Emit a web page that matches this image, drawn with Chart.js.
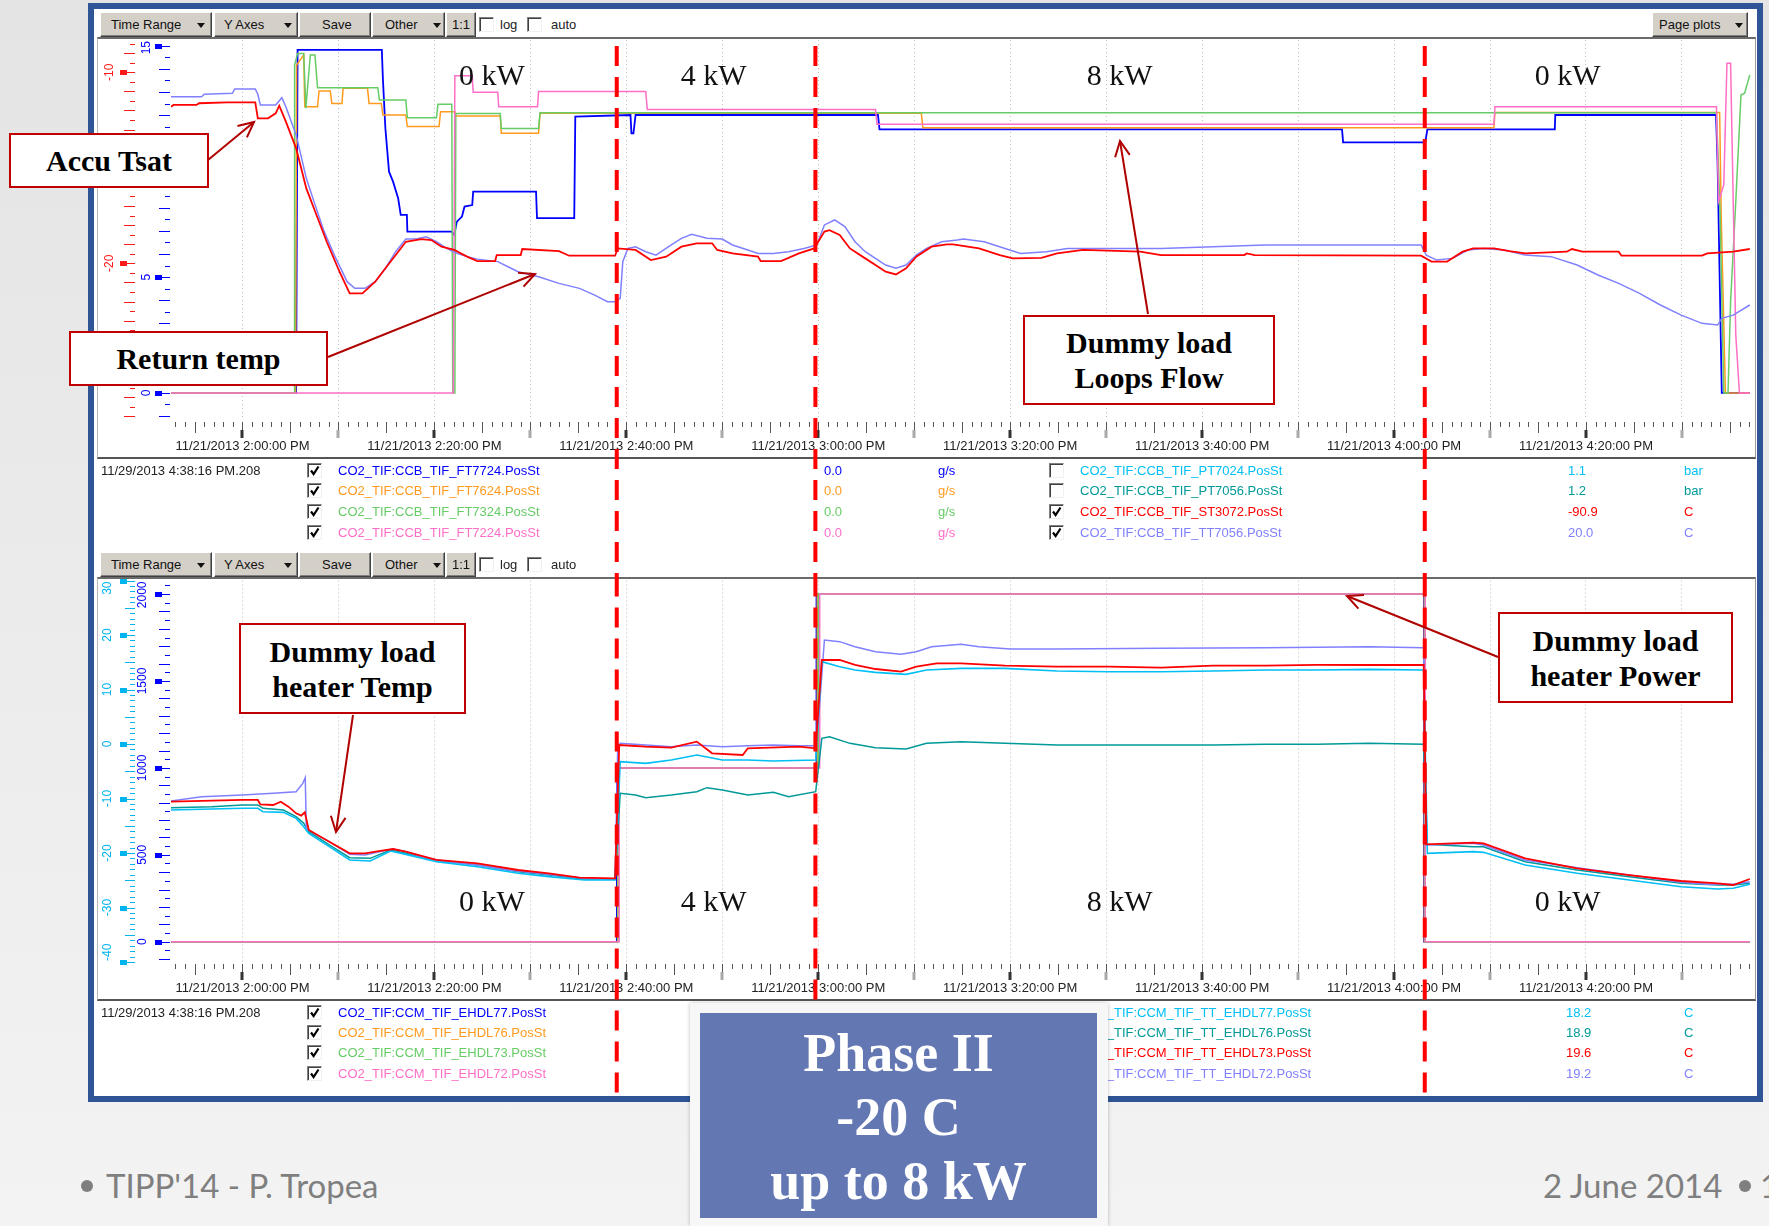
<!DOCTYPE html>
<html>
<head>
<meta charset="utf-8">
<title>Phase II -20 C up to 8 kW</title>
<script src="https://cdn.jsdelivr.net/npm/chart.js@4.4.1/dist/chart.umd.min.js"></script>
<style>
html,body{margin:0;padding:0;}
body{width:1769px;height:1226px;position:relative;overflow:hidden;
  background:linear-gradient(180deg,#e4e4e4 0%,#ececec 55%,#f3f3f3 100%);
  font-family:"Liberation Sans",Arial,sans-serif;}
.abs{position:absolute;}
#win{left:88px;top:3px;width:1663px;height:1087px;border:6px solid #2f5597;background:#fff;z-index:0;}
.panel{position:absolute;left:97px;width:1657px;border-top:2px solid #6a6a6a;border-left:1px solid #b8b8b8;border-right:1px solid #9a9a9a;border-bottom:2px solid #555;z-index:0;}
canvas{position:absolute;z-index:1;}
.btn{position:absolute;height:23px;background:#d4d0c8;border:1px solid;border-color:#fff #404040 #404040 #fff;
  box-shadow:inset -1px -1px #808080;font-size:13px;line-height:23px;color:#111;box-sizing:content-box;z-index:2;}
.btn .lab{position:absolute;top:0;}
.btn .arr{position:absolute;top:10px;width:0;height:0;border-left:4px solid transparent;border-right:4px solid transparent;border-top:5px solid #111;}
.cb{position:absolute;width:13px;height:13px;background:#fff;border:1px solid;border-color:#808080 #f0f0f0 #f0f0f0 #808080;
  box-shadow:inset 1px 1px #404040;z-index:2;}
.cb svg{position:absolute;left:0;top:0;}
.tx{position:absolute;font-size:13px;line-height:16px;white-space:nowrap;z-index:2;}
.note{position:absolute;background:#fff;border:2.5px solid #c00000;box-sizing:border-box;z-index:6;
  font-family:"Liberation Serif","Times New Roman",serif;font-weight:bold;font-size:30px;line-height:35px;color:#000;
  display:flex;align-items:center;justify-content:center;text-align:center;}
#phaseOuter{left:690px;top:1003px;width:418px;height:223px;background:#f7f7f7;box-shadow:0 0 4px rgba(0,0,0,0.25);z-index:8;}
#phaseInner{left:700px;top:1013px;width:397px;height:205px;background:#6377b3;z-index:9;color:#fff;
  font-family:"Liberation Serif","Times New Roman",serif;font-weight:bold;font-size:54px;line-height:64px;text-align:center;}
.foot{position:absolute;font-family:Lato,"Open Sans",sans-serif;font-size:33px;color:#7f7f7f;line-height:40px;z-index:3;white-space:nowrap;}
.dot{position:absolute;width:12px;height:12px;border-radius:50%;background:#7f7f7f;z-index:3;}
#arrows{position:absolute;left:0;top:0;z-index:7;}
</style>
</head>
<body>
<div id="win" class="abs"></div>
<div class="panel" style="top:37px;height:418px;"></div>
<div class="panel" style="top:577px;height:420px;"></div>
<canvas id="topChart" width="1661" height="540" style="left:95px;top:38px;"></canvas>
<canvas id="bottomChart" width="1661" height="521" style="left:95px;top:578px;"></canvas>
<div id="overlay"></div>
<svg id="arrows" width="1769" height="1226"></svg>

<div class="note" style="left:9px;top:133px;width:200px;height:55px;">Accu Tsat</div>
<div class="note" style="left:69px;top:331px;width:259px;height:55px;">Return temp</div>
<div class="note" style="left:1023px;top:315px;width:252px;height:90px;">Dummy load<br>Loops Flow</div>
<div class="note" style="left:239px;top:623px;width:227px;height:91px;">Dummy load<br>heater Temp</div>
<div class="note" style="left:1498px;top:612px;width:235px;height:91px;">Dummy load<br>heater Power</div>

<div id="phaseOuter" class="abs"></div>
<div id="phaseInner" class="abs"><div style="padding-top:8px">Phase II<br>-20 C<br>up to 8 kW</div></div>

<div class="dot" style="left:81px;top:1180px;"></div>
<div class="foot" style="left:106px;top:1165px;">TIPP'14 - P. Tropea</div>
<div class="foot" style="left:1543px;top:1165px;">2 June 2014</div>
<div class="dot" style="left:1739px;top:1180px;"></div>
<div class="foot" style="left:1760px;top:1165px;">1</div>

<script>
// ---- time axis: minutes after 2:00:00 PM, 11/21/2013 ----
const timeMin = -7.45;
const timeMax = 157.3;
const dateLabel = '11/21/2013';
const timeLabels = ['2:00:00 PM','2:20:00 PM','2:40:00 PM','3:00:00 PM','3:20:00 PM','3:40:00 PM','4:00:00 PM','4:20:00 PM'];
const phaseTimes = [39.0, 59.7, 123.2];            // heater power changes
const phaseNames = ['0 kW','4 kW','8 kW','0 kW'];
const phaseNameTimes = [26.0, 49.1, 91.4, 138.1];

// ---- upper plot: loop flows (g/s) ----
const ft7724 = [[-7.45,0],[5.59,0],[5.74,14.82],[14.52,14.82],[14.63,13.59],[14.89,11.43],[15.27,9.56],[15.69,9.13],[16.22,8.41],[16.49,7.69],[17.13,7.69],[17.18,6.97],[21.81,6.97],[22.07,6.83],[22.34,7.40],[22.87,7.62],[23.14,8.05],[23.94,8.12],[24.04,8.70],[30.59,8.70],[30.69,7.55],[34.57,7.55],[34.68,11.94],[40.43,12.01],[40.53,11.22],[40.74,11.22],[40.96,12.01],[66.22,12.01],[66.38,11.39],[114.58,11.39],[114.69,10.83],[123.25,10.83],[123.47,11.39],[136.75,11.39],[136.80,12.01],[153.55,12.01],[153.71,9.99],[154.15,0],[157.07,0]];
const ft7624 = [[-7.45,0],[5.53,0],[5.64,14.17],[6.38,14.60],[6.49,12.37],[7.82,12.37],[7.98,13.05],[9.15,13.05],[9.31,12.51],[10.37,12.51],[10.48,13.16],[13.03,13.16],[13.19,12.51],[14.47,12.51],[14.63,12.01],[17.02,12.01],[17.18,11.51],[20.48,11.51],[20.64,12.15],[22.13,12.15],[22.23,11.97],[26.86,11.97],[26.97,11.22],[30.85,11.22],[31.01,12.08],[70.74,12.08],[70.90,11.46],[130.41,11.46],[130.51,12.12],[153.93,12.12],[154.09,7.69],[154.53,0],[157.07,0]];
const ft7324 = [[-7.45,0],[5.37,0],[5.43,14.17],[5.74,14.67],[6.38,14.67],[6.60,12.30],[7.07,14.60],[7.55,14.60],[7.82,13.19],[14.10,13.19],[14.26,12.66],[17.02,12.66],[17.18,11.89],[20.21,11.89],[20.37,12.47],[21.81,12.47],[21.91,0],[22.13,0],[22.23,12.07],[26.86,12.07],[26.97,11.43],[30.85,11.43],[31.01,12.11],[153.60,12.11],[153.98,7.69],[154.36,0],[154.80,0],[155.07,3.95],[155.61,8.27],[156.15,12.87],[156.53,12.95],[157.07,13.74]];
const ft7224 = [[-7.45,0],[21.97,0],[22.13,13.71],[23.94,13.71],[24.04,12.99],[26.60,12.99],[26.70,12.37],[30.74,12.37],[30.85,13.02],[42.02,13.02],[42.18,12.25],[65.96,12.25],[66.12,11.61],[130.41,11.61],[130.51,12.37],[153.60,12.37],[153.82,8.27],[154.36,8.99],[154.69,14.24],[155.07,14.24],[155.61,2.51],[155.99,0],[157.07,0]];

// ---- upper plot: temperatures (C) ----
const st3072 = [[-7.45,-11.80],[-7.18,-11.71],[-4.79,-11.71],[-4.52,-11.62],[-1.60,-11.57],[1.33,-11.57],[1.60,-12.41],[2.66,-12.41],[3.46,-12.15],[3.83,-11.75],[4.52,-12.58],[5.59,-13.98],[6.65,-16.08],[7.71,-17.47],[8.78,-18.87],[10.11,-20.44],[11.17,-21.57],[12.50,-21.57],[13.83,-20.96],[15.16,-20.09],[16.49,-19.22],[17.02,-18.87],[18.62,-18.73],[19.68,-18.78],[20.74,-19.13],[22.07,-19.30],[23.40,-19.65],[24.47,-19.88],[26.33,-19.88],[26.49,-19.57],[28.99,-19.57],[29.15,-19.25],[32.98,-19.36],[34.04,-19.60],[38.83,-19.60],[39.10,-19.22],[40.96,-19.30],[42.55,-19.83],[44.15,-19.65],[45.74,-19.13],[47.34,-18.95],[48.94,-18.95],[49.47,-19.30],[51.06,-19.48],[53.72,-19.65],[53.99,-19.88],[56.12,-19.88],[57.98,-19.48],[59.57,-19.22],[60.64,-18.34],[61.17,-18.26],[62.23,-18.52],[63.30,-19.22],[64.89,-19.74],[65.96,-20.09],[67.02,-20.44],[68.09,-20.58],[69.15,-20.26],[70.21,-19.65],[71.81,-19.13],[73.40,-19.01],[74.04,-19.01],[76.75,-19.22],[78.92,-19.57],[80.27,-19.74],[83.25,-19.71],[84.88,-19.48],[87.59,-19.30],[93.55,-19.39],[95.72,-19.57],[104.39,-19.57],[104.66,-19.48],[105.47,-19.57],[122.82,-19.60],[123.90,-19.91],[125.53,-19.91],[127.15,-19.39],[128.24,-19.22],[130.41,-19.22],[132.03,-19.36],[133.66,-19.48],[138.00,-19.39],[138.54,-19.25],[139.62,-19.39],[143.41,-19.39],[143.69,-19.60],[152.09,-19.60],[152.63,-19.48],[155.34,-19.39],[157.07,-19.25]];
const tt7056 = [[-7.45,-11.28],[-4.26,-11.28],[-3.99,-11.15],[-1.06,-11.10],[-0.80,-10.87],[1.33,-10.87],[1.60,-11.15],[1.86,-11.71],[3.46,-11.71],[4.10,-11.33],[4.52,-11.80],[5.59,-13.28],[6.65,-15.55],[7.45,-16.77],[8.51,-18.34],[9.57,-19.57],[10.90,-20.96],[11.70,-21.31],[12.77,-21.31],[13.83,-20.96],[14.89,-20.26],[15.96,-19.39],[17.02,-18.73],[18.09,-18.73],[19.15,-18.61],[20.21,-18.87],[21.28,-19.22],[22.34,-19.48],[23.40,-19.65],[24.47,-19.78],[26.60,-19.91],[27.66,-20.18],[28.72,-20.44],[30.85,-20.70],[32.98,-21.05],[35.11,-21.31],[36.70,-21.66],[38.03,-22.01],[38.83,-22.01],[39.36,-21.83],[39.63,-19.91],[40.16,-19.22],[40.96,-19.13],[42.02,-19.39],[43.09,-19.57],[44.68,-19.04],[45.74,-18.69],[46.81,-18.48],[48.40,-18.69],[50.00,-18.73],[51.06,-19.04],[52.66,-19.30],[53.72,-19.48],[55.32,-19.48],[56.91,-19.39],[58.51,-19.22],[59.84,-19.04],[60.64,-17.99],[61.70,-17.73],[62.77,-18.08],[63.83,-18.87],[64.89,-19.39],[65.96,-19.74],[67.02,-20.09],[68.09,-20.26],[69.15,-20.09],[70.21,-19.57],[71.28,-19.22],[72.87,-18.87],[74.47,-18.78],[75.12,-18.73],[77.29,-18.87],[79.46,-19.22],[81.08,-19.48],[83.79,-19.39],[85.96,-19.22],[95.72,-19.22],[101.14,-19.13],[106.56,-19.04],[122.82,-19.04],[123.36,-19.57],[124.44,-19.83],[126.07,-19.74],[127.70,-19.30],[129.32,-19.22],[131.49,-19.30],[133.66,-19.57],[136.37,-19.65],[139.08,-20.09],[141.25,-20.61],[143.41,-21.05],[145.58,-21.57],[147.75,-22.18],[149.92,-22.71],[152.09,-23.14],[153.71,-23.23],[154.15,-22.88],[155.34,-22.71],[157.07,-22.18]];

// ---- lower plot: heater power (W) ----
const ehdl77 = [[-7.45,0],[39.0,0],[39.0,1000],[59.8,1000],[59.8,2000],[123.1,2000],[123.1,0],[157.07,0]];
const ehdl76 = [[-7.45,0],[39.1,0],[39.1,1000],[59.9,1000],[59.9,2000],[123.15,2000],[123.15,0],[157.07,0]];
const ehdl73 = [[-7.45,0],[39.15,0],[39.15,1000],[60.0,1000],[60.0,2000],[123.2,2000],[123.2,0],[157.07,0]];
const ehdl72 = [[-7.45,0],[39.25,0],[39.25,1000],[60.15,1000],[60.15,2000],[123.25,2000],[123.25,0],[157.07,0]];

// ---- lower plot: heater temperatures (C) ----
const ttEhdl77 = [[-7.45,-12.11],[0,-11.80],[1.60,-11.80],[2.13,-12.42],[4.26,-12.54],[5.59,-13.64],[6.38,-15.17],[6.91,-16.39],[9.04,-18.84],[11.17,-21.28],[13.30,-21.47],[15.43,-19.63],[17.02,-20.25],[20.21,-21.59],[24.47,-22.51],[28.72,-23.73],[31.91,-24.34],[35.64,-24.95],[38.83,-24.95],[39.36,-3.24],[42.02,-3.55],[44.68,-2.94],[47.34,-2.02],[50.00,-2.94],[52.66,-2.94],[55.32,-3.12],[59.73,-2.94],[60.37,15.11],[62.23,14.19],[63.83,13.58],[65.96,13.15],[69.15,12.78],[71.28,13.58],[74.89,13.88],[79.46,13.88],[84.88,13.40],[90.30,13.27],[95.72,13.27],[101.14,13.40],[106.56,13.58],[111.98,13.58],[117.40,13.70],[123.09,13.58],[123.47,-20.06],[128.24,-19.75],[129.32,-19.88],[133.66,-22.20],[139.08,-23.73],[144.50,-24.95],[149.92,-26.18],[153.71,-26.60],[155.34,-26.48],[157.07,-25.75]];
const ttEhdl76 = [[-7.45,-11.68],[-3.19,-11.50],[0,-11.19],[1.60,-11.19],[2.13,-11.80],[4.26,-12.11],[5.59,-13.33],[6.38,-14.56],[6.91,-16.08],[9.04,-18.53],[11.17,-20.86],[13.30,-20.98],[15.43,-19.45],[17.02,-20.06],[20.21,-21.28],[24.47,-22.20],[28.72,-23.43],[31.91,-24.04],[35.64,-24.77],[38.83,-24.77],[39.36,-9.05],[40.96,-9.36],[42.02,-9.85],[44.68,-9.36],[47.34,-8.75],[48.40,-8.01],[50.00,-8.44],[52.66,-9.36],[55.32,-8.87],[56.91,-9.66],[59.73,-8.75],[60.37,1.04],[61.17,1.34],[63.30,0.12],[65.96,-0.67],[69.15,-0.92],[71.28,0.12],[74.89,0.43],[79.46,0.12],[84.88,-0.18],[101.14,-0.18],[106.56,-0.06],[111.98,-0.06],[117.40,0.12],[123.09,-0.06],[123.47,-18.41],[128.24,-18.84],[129.32,-18.84],[133.66,-21.59],[139.08,-23.12],[144.50,-24.34],[149.92,-25.56],[153.71,-25.87],[155.34,-25.87],[157.07,-25.56]];
const ttEhdl73 = [[-7.45,-10.58],[0,-10.27],[1.60,-10.27],[1.86,-11.07],[3.19,-11.19],[3.99,-10.58],[4.79,-11.50],[5.59,-12.72],[6.12,-13.15],[6.49,-12.54],[6.91,-15.78],[9.04,-17.92],[11.17,-20.06],[12.77,-20.06],[14.36,-19.63],[15.69,-19.27],[17.02,-19.75],[20.21,-21.28],[24.47,-21.90],[28.72,-23.12],[31.91,-23.73],[35.11,-24.53],[38.83,-24.65],[39.26,-0.18],[42.02,-0.49],[44.68,-0.67],[47.34,0.43],[48.94,-1.71],[52.13,-2.02],[52.66,-0.79],[57.98,-0.49],[59.73,-0.79],[60.37,15.41],[62.23,15.41],[63.83,14.50],[65.96,13.76],[68.62,13.27],[70.21,14.19],[72.34,14.80],[74.89,14.80],[79.46,14.37],[84.88,14.19],[90.30,14.19],[95.72,14.01],[101.14,14.37],[106.56,14.37],[111.98,14.50],[117.40,14.50],[123.09,14.50],[123.36,-18.41],[128.24,-18.10],[129.32,-18.23],[133.66,-20.98],[139.08,-22.81],[144.50,-24.04],[149.92,-25.14],[153.71,-25.56],[155.34,-25.87],[157.07,-24.77]];
const ttEhdl72 = [[-7.45,-10.46],[-4.26,-9.66],[0,-9.36],[3.19,-9.05],[5.59,-8.75],[6.28,-7.22],[6.54,-6.18],[6.65,-15.47],[7.45,-16.39],[9.04,-17.92],[11.17,-20.25],[12.77,-20.37],[14.36,-19.75],[15.69,-19.27],[17.02,-19.75],[19.15,-20.98],[21.28,-21.59],[24.47,-22.20],[27.66,-23.12],[30.85,-23.73],[34.04,-24.34],[36.70,-24.77],[38.83,-24.77],[39.10,-0.79],[39.36,0.12],[42.02,-0.18],[44.68,-0.49],[47.34,-0.18],[50.00,-0.49],[52.66,-0.31],[55.32,-0.18],[57.98,-0.31],[59.73,-0.31],[60.11,6.54],[60.64,19.08],[62.23,18.78],[63.83,17.86],[65.96,16.94],[68.62,16.45],[70.21,16.94],[71.81,17.86],[74.89,18.29],[76.75,17.86],[80.00,17.43],[84.88,17.43],[95.72,17.55],[106.56,17.68],[117.40,17.86],[123.09,17.68],[123.36,-18.53],[128.24,-18.23],[129.32,-18.53],[133.66,-21.28],[139.08,-22.69],[144.50,-24.04],[149.92,-25.38],[152.63,-25.75],[155.34,-25.75],[157.07,-25.26]];

// ---- axis tick labels ----
const topTempTicks = [-10, -20];
const topFlowTicks = [15, 10, 5, 0];
const heaterTempTicks = [30, 20, 10, 0, -10, -20, -30, -40];
const heaterPowerTicks = [2000, 1500, 1000, 500, 0];

// ---- legend entries ----
const legendStamp = '11/29/2013 4:38:16 PM.208';
const topLeftNames = ['CO2_TIF:CCB_TIF_FT7724.PosSt','CO2_TIF:CCB_TIF_FT7624.PosSt','CO2_TIF:CCB_TIF_FT7324.PosSt','CO2_TIF:CCB_TIF_FT7224.PosSt'];
const topLeftValues = ['0.0','0.0','0.0','0.0'];
const topLeftUnits = ['g/s','g/s','g/s','g/s'];
const topRightNames = ['CO2_TIF:CCB_TIF_PT7024.PosSt','CO2_TIF:CCB_TIF_PT7056.PosSt','CO2_TIF:CCB_TIF_ST3072.PosSt','CO2_TIF:CCB_TIF_TT7056.PosSt'];
const topRightValues = ['1.1','1.2','-90.9','20.0'];
const topRightUnits = ['bar','bar','C','C'];
const topRightChecked = [false, false, true, true];
const botLeftNames = ['CO2_TIF:CCM_TIF_EHDL77.PosSt','CO2_TIF:CCM_TIF_EHDL76.PosSt','CO2_TIF:CCM_TIF_EHDL73.PosSt','CO2_TIF:CCM_TIF_EHDL72.PosSt'];
const botLeftValues = ['0.0','0.0','0.0','0.0'];
const botLeftUnits = ['W','W','W','W'];
const botRightNames = ['CO2_TIF:CCM_TIF_TT_EHDL77.PosSt','CO2_TIF:CCM_TIF_TT_EHDL76.PosSt','CO2_TIF:CCM_TIF_TT_EHDL73.PosSt','CO2_TIF:CCM_TIF_TT_EHDL72.PosSt'];
const botRightValues = ['18.2','18.9','19.6','19.2'];
const botRightUnits = ['C','C','C','C'];

// ---- colours ----
const C = {blue:'#0000ff', orange:'#ff9a1e', green:'#66cc66', pink:'#ff6ec7', red:'#ff0000',
           lav:'#8080ff', cyan:'#00bff5', teal:'#009999'};
const topLeftColors = [C.blue, C.orange, C.green, C.pink];
const topRightColors = [C.cyan, C.teal, C.red, C.lav];
const botLeftColors = [C.blue, C.orange, C.green, C.pink];
const botRightColors = [C.cyan, C.teal, C.red, C.lav];

// ---------------------------------------------------------------
const CHECK = '<svg width="13" height="13"><path d="M3 6.5 L5.6 10 L10.5 2.5" stroke="#000" stroke-width="2.2" fill="none"/></svg>';
const overlay = document.getElementById('overlay');
let html = '';
function cb(x, y, on){ html += `<div class="cb" style="left:${x}px;top:${y}px">${on ? CHECK : ''}</div>`; }
function tx(x, y, s, color){ html += `<div class="tx" style="left:${x}px;top:${y}px;color:${color}">${s}</div>`; }
function button(x, y, w, label, lx, arrowX){
  html += `<div class="btn" style="left:${x}px;top:${y}px;width:${w}px"><span class="lab" style="left:${lx}px">${label}</span>` +
          (arrowX ? `<span class="arr" style="left:${arrowX}px"></span>` : '') + '</div>';
}
function toolbar(y){
  button(100, y, 110, 'Time Range', 10, 96);
  button(214, y, 82, 'Y Axes', 9, 69);
  button(299, y, 70, 'Save', 22, 0);
  button(372, y, 71, 'Other', 12, 60);
  button(446, y, 28, '1:1', 5, 0);
  cb(479, y + 5, false); tx(500, y + 5, 'log', '#222');
  cb(527, y + 5, false); tx(551, y + 5, 'auto', '#222');
}
toolbar(12);
toolbar(552);
button(1652, 12, 94, 'Page plots', 6, 82);

function legendBlock(rows, stamp, lNames, lColors, lVals, lUnits, rNames, rColors, rVals, rUnits, rChecked, valX){
  tx(101, rows[0] - 8, stamp, '#222');
  rows.forEach((ry, i) => {
    cb(307, ry - 8, true);
    tx(338, ry - 8, lNames[i], lColors[i]);
    tx(824, ry - 8, lVals[i], lColors[i]);
    tx(938, ry - 8, lUnits[i], lColors[i]);
    cb(1049, ry - 8, rChecked[i]);
    tx(1080, ry - 8, rNames[i], rColors[i]);
    tx(valX, ry - 8, rVals[i], rColors[i]);
    tx(1684, ry - 8, rUnits[i], rColors[i]);
  });
}
legendBlock([471, 491, 512, 533], legendStamp, topLeftNames, topLeftColors, topLeftValues, topLeftUnits,
            topRightNames, topRightColors, topRightValues, topRightUnits, topRightChecked, 1568);
legendBlock([1013, 1033, 1053, 1074], legendStamp, botLeftNames, botLeftColors, botLeftValues, botLeftUnits,
            botRightNames, botRightColors, botRightValues, botRightUnits, [true, true, true, true], 1566);
overlay.innerHTML = html;

// ---- callout arrows ----
const arrowList = [[208,160,254,122],[328,357,535,274],[1148,314,1120,141],[353,715,336,832],[1498,657,1347,596]];
let svg = '';
arrowList.forEach(([x0,y0,x1,y1]) => {
  const a = Math.atan2(y1 - y0, x1 - x0), L = 17, s = 0.45;
  const p1 = [x1 - L*Math.cos(a - s), y1 - L*Math.sin(a - s)];
  const p2 = [x1 - L*Math.cos(a + s), y1 - L*Math.sin(a + s)];
  svg += `<line x1="${x0}" y1="${y0}" x2="${x1}" y2="${y1}" stroke="#b00000" stroke-width="2"/>`;
  svg += `<polyline points="${p1[0]},${p1[1]} ${x1},${y1} ${p2[0]},${p2[1]}" stroke="#b00000" stroke-width="2" fill="none"/>`;
});
document.getElementById('arrows').innerHTML = svg;

// ---------------------------------------------------------------
const pts = a => a.map(([x, y]) => ({x, y}));
function line(label, data, color, axis, order, width){
  return {label, data: pts(data), borderColor: color, backgroundColor: color, yAxisID: axis,
          borderWidth: width || 1.5, pointRadius: 0, tension: 0, order, fill: false};
}

// draws the stacked left axes with rotated labels, using the hidden y scales
function drawYAxis(chart, spec){
  const {ctx, chartArea: a} = chart;
  const s = chart.scales[spec.id];
  const L = a.left;
  ctx.save();
  ctx.strokeStyle = spec.color; ctx.fillStyle = spec.color; ctx.lineWidth = 1;
  const k0 = Math.ceil(s.min / spec.minor), k1 = Math.floor(s.max / spec.minor);
  for (let k = k0; k <= k1; k++){
    const y = Math.round(s.getPixelForValue(k * spec.minor)) + 0.5;
    const from = (k % spec.longEvery === 0) ? spec.longFrom : spec.shortFrom;
    ctx.beginPath(); ctx.moveTo(L + from, y); ctx.lineTo(L + spec.to, y); ctx.stroke();
  }
  ctx.font = '12px "Liberation Sans", Arial, sans-serif';
  ctx.textAlign = 'center'; ctx.textBaseline = 'middle';
  spec.labels.forEach(v => {
    const y = s.getPixelForValue(v);
    ctx.fillRect(L + spec.r0, Math.round(y) - 2, spec.r1 - spec.r0, 5);
    ctx.beginPath(); ctx.moveTo(L + spec.r1, Math.round(y) + 0.5); ctx.lineTo(L + spec.to, Math.round(y) + 0.5); ctx.stroke();
    const half = ctx.measureText(String(v)).width / 2 + 1;
    const ly = Math.min(Math.max(y, a.top + half), a.bottom - half);
    ctx.save(); ctx.translate(L + spec.labelDx, ly); ctx.rotate(-Math.PI / 2);
    ctx.fillText(String(v), 0, 0); ctx.restore();
  });
  ctx.restore();
}

const slidePlugin = {
  id: 'slideMarks',
  afterDraw(chart, args, opts){
    const {ctx, chartArea: a, scales: {x}} = chart;
    // time ticks below the plot
    ctx.save();
    for (let m = Math.ceil(x.min); m <= Math.floor(x.max); m++){
      const px = Math.round(x.getPixelForValue(m)) + 0.5;
      ctx.strokeStyle = '#555'; ctx.lineWidth = 1;
      ctx.beginPath();
      if (m % 10 === 0){
        ctx.moveTo(px, a.bottom + 2); ctx.lineTo(px, a.bottom + 10); ctx.stroke();
        ctx.fillStyle = (m % 20 === 0) ? '#333' : '#aaa';
        ctx.fillRect(px - 2, a.bottom + 10, 3, 8);
      } else {
        ctx.moveTo(px, a.bottom + 2); ctx.lineTo(px, a.bottom + (m % 5 === 0 ? 13 : 7)); ctx.stroke();
      }
    }
    ctx.restore();
    opts.axes.forEach(spec => drawYAxis(chart, spec));
    // power level names
    ctx.save();
    ctx.font = '30px "Liberation Serif", "Times New Roman", serif';
    ctx.fillStyle = '#111'; ctx.textAlign = 'center'; ctx.textBaseline = 'middle';
    phaseNames.forEach((n, i) => ctx.fillText(n, x.getPixelForValue(phaseNameTimes[i]), a.top + opts.nameDy));
    ctx.restore();
    // phase change markers
    ctx.save();
    ctx.strokeStyle = '#ff0000'; ctx.lineWidth = 4; ctx.setLineDash([20, 11]);
    phaseTimes.forEach(t => {
      const px = x.getPixelForValue(t);
      ctx.beginPath(); ctx.moveTo(px, a.top + opts.dashFrom); ctx.lineTo(px, chart.height - opts.dashEnd); ctx.stroke();
    });
    ctx.restore();
  }
};

function xScale(){
  return {
    type: 'linear', min: timeMin, max: timeMax,
    afterBuildTicks: s => { const t = []; for (let v = 0; v <= timeMax; v += 10) t.push({value: v}); s.ticks = t; },
    afterFit: s => { s.height = 37; },
    grid: {color: '#bdbdbd', lineWidth: 1, drawTicks: false},
    border: {display: false, dash: [1, 3]},
    ticks: {
      padding: 19, color: '#222', maxRotation: 0, autoSkip: false,
      font: {family: '"Liberation Sans", Arial, sans-serif', size: 13},
      callback: v => (v % 20 === 0 && timeLabels[v / 20]) ? dateLabel + ' ' + timeLabels[v / 20] : ''
    }
  };
}

const common = {
  responsive: false, animation: false, parsing: false, normalized: true,
  plugins: {legend: {display: false}, tooltip: {enabled: false}},
  elements: {point: {radius: 0}, line: {tension: 0}}
};

new Chart(document.getElementById('topChart'), {
  type: 'line',
  data: {datasets: [
    line('CO2_TIF:CCB_TIF_ST3072.PosSt', st3072, C.red, 'yT', 0, 1.8),
    line('CO2_TIF:CCB_TIF_TT7056.PosSt', tt7056, C.lav, 'yT', 1, 1.5),
    line('CO2_TIF:CCB_TIF_FT7224.PosSt', ft7224, C.pink, 'yF', 2, 1.5),
    line('CO2_TIF:CCB_TIF_FT7324.PosSt', ft7324, C.green, 'yF', 3, 1.5),
    line('CO2_TIF:CCB_TIF_FT7624.PosSt', ft7624, C.orange, 'yF', 4, 1.5),
    line('CO2_TIF:CCB_TIF_FT7724.PosSt', ft7724, C.blue, 'yF', 5, 1.8)
  ]},
  options: Object.assign({}, common, {
    layout: {padding: {left: 76, right: 4, top: 2, bottom: 121}},
    scales: {
      x: xScale(),
      yT: {type: 'linear', position: 'left', display: false, min: -28.2, max: -8.31},
      yF: {type: 'linear', position: 'left', display: false, min: -1.17, max: 15.25}
    },
    plugins: Object.assign({}, common.plugins, {slideMarks: {
      nameDy: 37, dashFrom: 6, dashEnd: 0,
      axes: [
        {id: 'yT', color: '#ff1a1a', minor: 0.5, longEvery: 2, labels: topTempTicks,
         labelDx: -61, r0: -51, r1: -44, longFrom: -47, shortFrom: -41, to: -36},
        {id: 'yF', color: '#0000ff', minor: 0.5, longEvery: 2, labels: topFlowTicks,
         labelDx: -24, r0: -16, r1: -9, longFrom: -12, shortFrom: -6, to: -1}
      ]}})
  }),
  plugins: [slidePlugin]
});

new Chart(document.getElementById('bottomChart'), {
  type: 'line',
  data: {datasets: [
    line('CO2_TIF:CCM_TIF_TT_EHDL73.PosSt', ttEhdl73, C.red, 'yC', 0, 1.8),
    line('CO2_TIF:CCM_TIF_TT_EHDL77.PosSt', ttEhdl77, C.cyan, 'yC', 1, 1.6),
    line('CO2_TIF:CCM_TIF_TT_EHDL72.PosSt', ttEhdl72, C.lav, 'yC', 2, 1.5),
    line('CO2_TIF:CCM_TIF_TT_EHDL76.PosSt', ttEhdl76, C.teal, 'yC', 3, 1.5),
    line('CO2_TIF:CCM_TIF_EHDL72.PosSt', ehdl72, C.pink, 'yP', 4, 1.5),
    line('CO2_TIF:CCM_TIF_EHDL73.PosSt', ehdl73, C.green, 'yP', 5, 1.5),
    line('CO2_TIF:CCM_TIF_EHDL76.PosSt', ehdl76, C.orange, 'yP', 6, 1.5),
    line('CO2_TIF:CCM_TIF_EHDL77.PosSt', ehdl77, C.blue, 'yP', 7, 1.5)
  ]},
  options: Object.assign({}, common, {
    layout: {padding: {left: 76, right: 4, top: 2.5, bottom: 100}},
    scales: {
      x: xScale(),
      yC: {type: 'linear', position: 'left', display: false, min: -40, max: 30},
      yP: {type: 'linear', position: 'left', display: false, min: -116.8, max: 2078.2}
    },
    plugins: Object.assign({}, common.plugins, {slideMarks: {
      nameDy: 322.5, dashFrom: -4, dashEnd: 4,
      axes: [
        {id: 'yC', color: '#00b4f0', minor: 1, longEvery: 5, labels: heaterTempTicks,
         labelDx: -63, r0: -51, r1: -44, longFrom: -46, shortFrom: -41, to: -36},
        {id: 'yP', color: '#0000ff', minor: 50, longEvery: 2, labels: heaterPowerTicks,
         labelDx: -28, r0: -16, r1: -9, longFrom: -12, shortFrom: -6, to: -1}
      ]}})
  }),
  plugins: [slidePlugin]
});
</script>
</body>
</html>
